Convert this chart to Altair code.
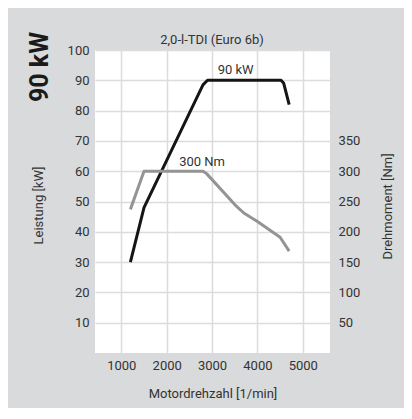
import altair as alt
import pandas as pd

# ---- data ----
power_rpm = [1200, 1500, 2800, 2900, 4520, 4580, 4700]
power_kw = [30, 48, 88.5, 90, 90, 89, 82]

torque_rpm = [1200, 1500, 2800, 2880, 3500, 3700, 4000, 4500, 4700]
torque_nm = [237, 300, 300, 296, 245, 231, 217, 191, 168]

x_ticks = [1000, 2000, 3000, 4000, 5000]
kw_ticks = [10, 20, 30, 40, 50, 60, 70, 80, 90, 100]
nm_ticks = [50, 100, 150, 200, 250, 300, 350]

power_label = ["90 kW"]
power_label_rpm = [3520]
power_label_kw = [93.5]

torque_label = ["300 Nm"]
torque_label_rpm = [2780]
torque_label_nm = [315]

title_text = "2,0-l-TDI (Euro 6b)"
big_label = "90 kW"

FONT = "Roboto"
TXT = "#333333"

power_df = pd.DataFrame({"rpm": power_rpm, "kw": power_kw, "i": range(len(power_rpm))})
torque_df = pd.DataFrame({"rpm": torque_rpm, "nm": torque_nm, "i": range(len(torque_rpm))})
plab_df = pd.DataFrame({"rpm": power_label_rpm, "kw": power_label_kw, "t": power_label})
tlab_df = pd.DataFrame({"rpm": torque_label_rpm, "nm": torque_label_nm, "t": torque_label})
big_df = pd.DataFrame({"t": [big_label]})
title_df = pd.DataFrame({"t": [title_text]})

x_scale = alt.Scale(domain=[420, 5600], nice=False, zero=False)
kw_scale = alt.Scale(domain=[0, 100], nice=False)
nm_scale = alt.Scale(domain=[0, 500], nice=False)

x_axis = alt.Axis(
    values=x_ticks, format="d", title="Motordrehzahl [1/min]", grid=True,
    gridColor="#dcdcdc", gridWidth=1.5, domain=False, ticks=False,
    labelPadding=6, labelFontSize=13, labelFont=FONT, labelColor=TXT,
    titleFont=FONT, titleFontSize=13, titleFontWeight="normal",
    titleColor=TXT, titleY=40, titleBaseline="middle",
)
kw_axis = alt.Axis(
    values=kw_ticks, format="d", title="Leistung [kW]", grid=True,
    gridColor="#dcdcdc", gridWidth=1.5, domain=False, ticks=False,
    labelPadding=6, labelFontSize=13, labelFont=FONT, labelColor=TXT,
    titleFont=FONT, titleFontSize=13, titleFontWeight="normal",
    titleColor=TXT, titleAngle=270, titleX=-57, titleY=155,
    titleAlign="center", titleBaseline="middle",
)
nm_axis = alt.Axis(
    orient="right", values=nm_ticks, format="d", title="Drehmoment [Nm]",
    grid=False, domain=False, ticks=False, labelPadding=8, labelFontSize=13,
    labelFont=FONT, labelColor=TXT, titleFont=FONT, titleFontSize=13,
    titleFontWeight="normal", titleColor=TXT, titleAngle=270, titleX=57,
    titleY=156, titleAlign="center", titleBaseline="middle",
)

X = lambda: alt.X("rpm:Q", scale=x_scale, axis=x_axis)

power_line = alt.Chart(power_df).mark_line(
    color="#151515", strokeWidth=3, strokeJoin="round"
).encode(x=X(), y=alt.Y("kw:Q", scale=kw_scale, axis=kw_axis), order="i:Q")

power_text = alt.Chart(plab_df).mark_text(
    font=FONT, fontSize=13, color=TXT, align="center", baseline="middle"
).encode(x=X(), y=alt.Y("kw:Q", scale=kw_scale, axis=kw_axis), text="t:N")

big_text = alt.Chart(big_df).mark_text(
    font=FONT, fontSize=25, fontWeight="bold", color="#1a1a1a", angle=270,
    align="center", baseline="middle"
).encode(x=alt.value(-55), y=alt.value(17), text="t:N")

title_mark = alt.Chart(title_df).mark_text(
    font=FONT, fontSize=13, color=TXT, align="center", baseline="middle"
).encode(x=alt.value(117), y=alt.value(-10), text="t:N")

torque_line = alt.Chart(torque_df).mark_line(
    color="#949494", strokeWidth=3, strokeJoin="round"
).encode(x=X(), y=alt.Y("nm:Q", scale=nm_scale, axis=nm_axis), order="i:Q")

torque_text = alt.Chart(tlab_df).mark_text(
    font=FONT, fontSize=13, color=TXT, align="center", baseline="middle"
).encode(x=X(), y=alt.Y("nm:Q", scale=nm_scale, axis=nm_axis), text="t:N")

left = alt.layer(power_line, power_text, big_text, title_mark)
right = alt.layer(torque_line, torque_text)

chart = alt.layer(left, right).resolve_scale(y="independent").properties(
    width=235,
    height=303,
    autosize=alt.AutoSizeParams(type="none"),
    padding={"left": 87, "top": 42, "right": 74, "bottom": 55},
    background="#d9dadb",
).configure_view(fill="white", stroke=None)

chart.save("out.html", embed_options={"renderer": "svg", "actions": False})
